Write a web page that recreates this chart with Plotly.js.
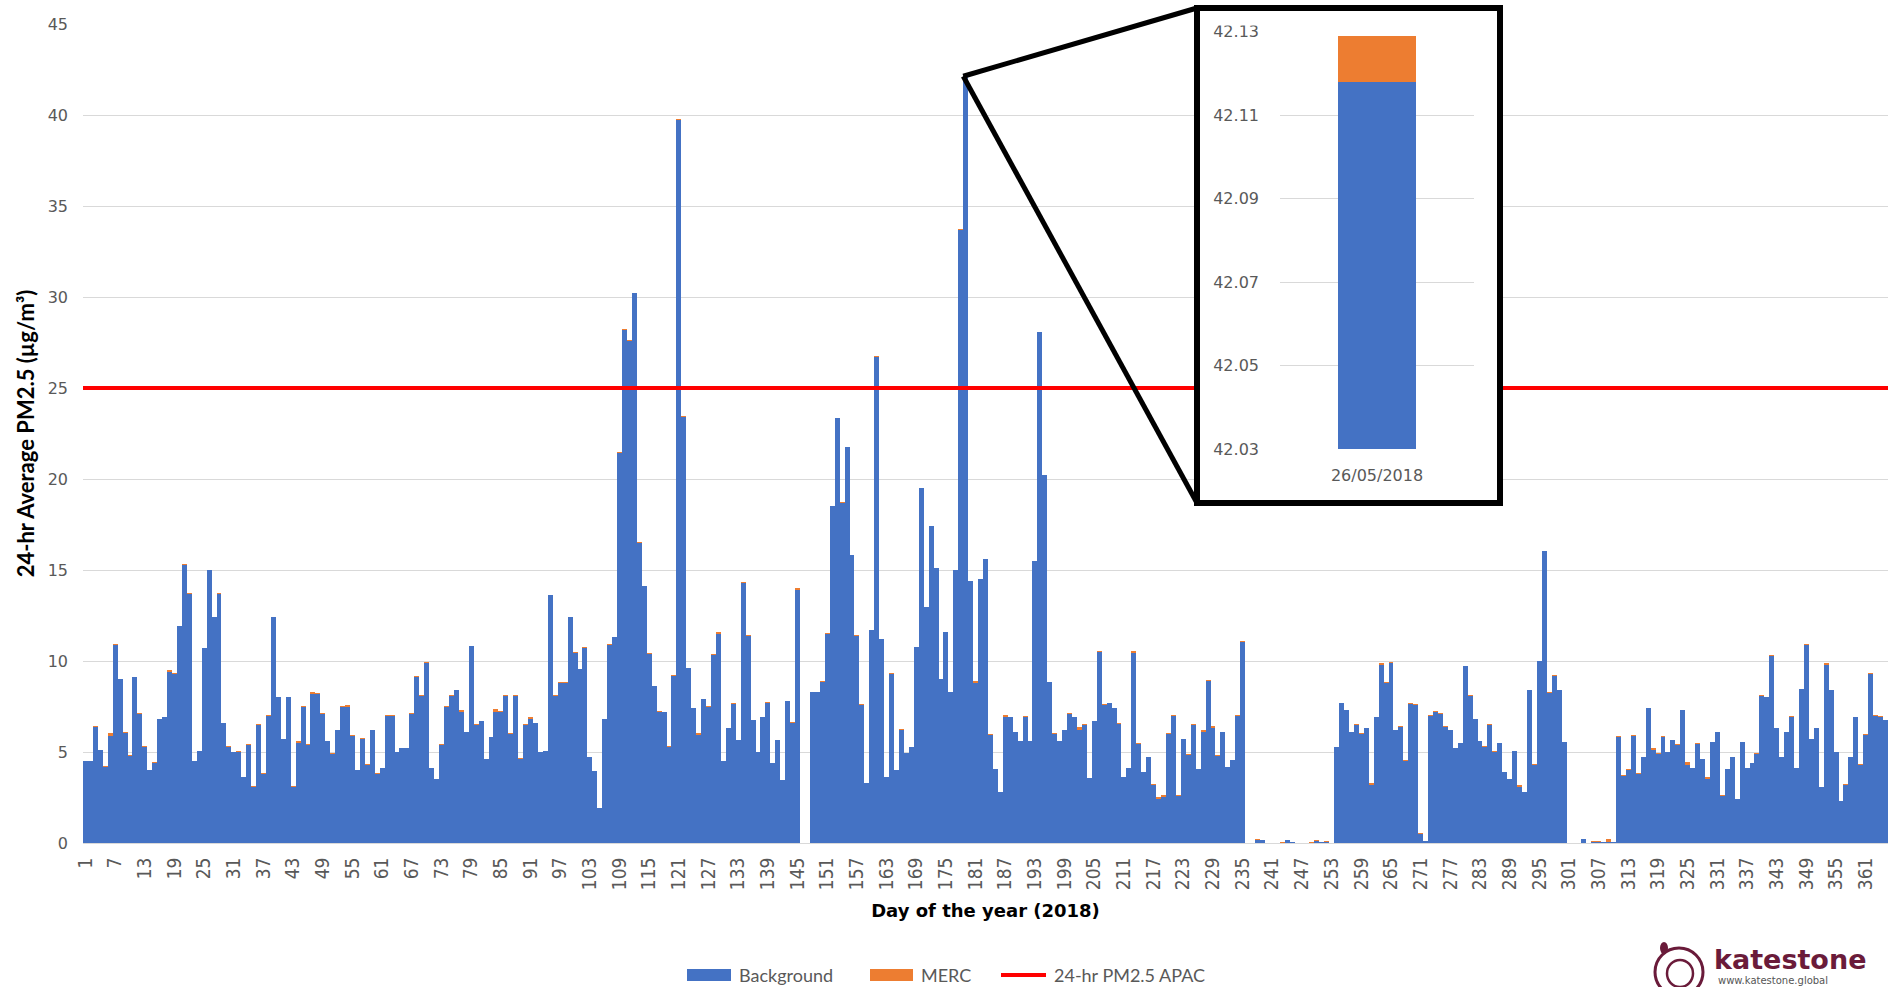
<!DOCTYPE html>
<html>
<head>
<meta charset="utf-8">
<script src="https://cdn.plot.ly/plotly-3.0.1.min.js"></script>
<style>html,body{margin:0;padding:0;background:#fff;}#chart{width:1902px;height:987px;}</style>
</head>
<body>
<div id="chart"></div>
<script>
// ---------------- DATA ----------------
const days = Array.from({length: 365}, (_, i) => i + 1);

const background = [
  4.5, 4.5, 6.4, 5.1, 4.2, 5.9, 10.9, 9.0, 6.05, 4.8,
  9.1, 7.1, 5.3, 4.0, 4.4, 6.8, 6.9, 9.4, 9.3, 11.9,
  15.3, 13.7, 4.5, 5.05, 10.7, 15.0, 12.4, 13.7, 6.6, 5.3,
  5.0, 5.0, 3.6, 5.4, 3.1, 6.5, 3.8, 7.0, 12.4, 8.0,
  5.7, 8.0, 3.1, 5.5, 7.5, 5.4, 8.2, 8.2, 7.1, 5.6,
  4.9, 6.2, 7.5, 7.5, 5.9, 4.0, 5.7, 4.3, 6.2, 3.8,
  4.1, 7.0, 7.0, 5.0, 5.2, 5.2, 7.1, 9.1, 8.1, 9.9,
  4.1, 3.5, 5.4, 7.5, 8.1, 8.4, 7.2, 6.1, 10.8, 6.5,
  6.7, 4.6, 5.8, 7.2, 7.2, 8.1, 6.0, 8.1, 4.6, 6.5,
  6.8, 6.6, 5.0, 5.05, 13.6, 8.1, 8.8, 8.8, 12.4, 10.45,
  9.55, 10.7, 4.7, 3.95, 1.9, 6.8, 10.9, 11.3, 21.45, 28.2,
  27.6, 30.2, 16.5, 14.1, 10.4, 8.6, 7.2, 7.2, 5.3, 9.2,
  39.7, 23.4, 9.6, 7.4, 5.95, 7.9, 7.5, 10.35, 11.5, 4.5,
  6.3, 7.65, 5.65, 14.3, 11.4, 6.75, 5.0, 6.9, 7.7, 4.4,
  5.65, 3.45, 7.8, 6.6, 13.9, 0, 0, 8.3, 8.3, 8.85,
  11.5, 18.5, 23.35, 18.7, 21.75, 15.8, 11.4, 7.6, 3.3, 11.7,
  26.7, 11.2, 3.6, 9.3, 4.0, 6.2, 4.95, 5.25, 10.75, 19.5,
  12.95, 17.4, 15.1, 9.0, 11.6, 8.3, 15.0, 33.7, 42.118, 14.4,
  8.8, 14.5, 15.6, 5.95, 4.05, 2.8, 6.9, 6.9, 6.1, 5.6,
  6.95, 5.6, 15.5, 28.05, 20.2, 8.85, 6.0, 5.6, 6.2, 7.1,
  6.9, 6.2, 6.5, 3.55, 6.7, 10.5, 7.6, 7.7, 7.4, 6.55,
  3.6, 4.1, 10.45, 5.45, 3.9, 4.7, 3.2, 2.4, 2.55, 6.0,
  7.0, 2.6, 5.7, 4.85, 6.5, 4.05, 6.1, 8.9, 6.3, 4.8,
  6.1, 4.15, 4.55, 7.0, 11.05, 0, 0, 0.18, 0.15, 0,
  0, 0, 0.02, 0.15, 0.03, 0, 0, 0, 0.02, 0.12,
  0.03, 0.08, 0, 5.25, 7.7, 7.3, 6.1, 6.5, 6.0, 6.3,
  3.2, 6.9, 9.8, 8.8, 9.9, 6.2, 6.4, 4.5, 7.65, 7.6,
  0.5, 0.1, 7.0, 7.2, 7.1, 6.4, 6.2, 5.2, 5.5, 9.7,
  8.1, 6.8, 5.6, 5.3, 6.5, 5.0, 5.5, 3.9, 3.5, 5.05,
  3.1, 2.8, 8.4, 4.3, 10.0, 16.05, 8.25, 9.2, 8.4, 5.55,
  0, 0, 0, 0.2, 0, 0.08, 0.08, 0.04, 0.05, 0.06,
  5.85, 3.7, 4.0, 5.9, 3.8, 4.7, 7.4, 5.1, 4.9, 5.85,
  5.0, 5.65, 5.4, 7.3, 4.3, 4.1, 5.45, 4.6, 3.5, 5.55,
  6.1, 2.6, 4.05, 4.7, 2.4, 5.55, 4.1, 4.4, 4.9, 8.1,
  8.0, 10.3, 6.3, 4.7, 6.1, 6.95, 4.1, 8.45, 10.9, 5.7,
  6.3, 3.05, 9.8, 8.4, 5.0, 2.3, 3.2, 4.7, 6.9, 4.3,
  5.95, 9.3, 7.0, 6.95, 6.75
];

const merc = [
  0.02, 0.03, 0.05, 0.02, 0.02, 0.12, 0.03, 0.02, 0.03, 0.05,
  0.04, 0.02, 0.02, 0.02, 0.03, 0.02, 0.05, 0.1, 0.03, 0.02,
  0.05, 0.02, 0.02, 0.03, 0.02, 0.02, 0.03, 0.02, 0.02, 0.03,
  0.02, 0.08, 0.02, 0.02, 0.02, 0.03, 0.02, 0.05, 0.02, 0.02,
  0.02, 0.03, 0.02, 0.12, 0.02, 0.02, 0.08, 0.03, 0.02, 0.02,
  0.02, 0.03, 0.02, 0.08, 0.02, 0.02, 0.05, 0.02, 0.02, 0.02,
  0.02, 0.06, 0.02, 0.02, 0.03, 0.02, 0.02, 0.05, 0.02, 0.02,
  0.02, 0.02, 0.02, 0.03, 0.02, 0.02, 0.1, 0.02, 0.02, 0.03,
  0.02, 0.02, 0.02, 0.15, 0.05, 0.02, 0.03, 0.02, 0.05, 0.02,
  0.12, 0.02, 0.02, 0.02, 0.03, 0.02, 0.02, 0.03, 0.02, 0.02,
  0.02, 0.05, 0.02, 0.02, 0.02, 0.02, 0.02, 0.02, 0.02, 0.03,
  0.02, 0.02, 0.02, 0.02, 0.02, 0.03, 0.05, 0.02, 0.02, 0.03,
  0.1, 0.05, 0.02, 0.02, 0.1, 0.02, 0.03, 0.02, 0.1, 0.02,
  0.02, 0.03, 0.02, 0.02, 0.02, 0.02, 0.02, 0.02, 0.03, 0.02,
  0.02, 0.02, 0.02, 0.03, 0.1, 0, 0, 0.02, 0.02, 0.03,
  0.02, 0.02, 0.02, 0.02, 0.02, 0.02, 0.02, 0.02, 0.02, 0.03,
  0.05, 0.02, 0.02, 0.03, 0.02, 0.05, 0.02, 0.02, 0.02, 0.02,
  0.02, 0.02, 0.02, 0.02, 0.02, 0.02, 0.02, 0.02, 0.011, 0.02,
  0.1, 0.02, 0.02, 0.02, 0.02, 0.02, 0.15, 0.02, 0.02, 0.02,
  0.02, 0.02, 0.02, 0.02, 0.02, 0.02, 0.02, 0.02, 0.03, 0.02,
  0.03, 0.15, 0.02, 0.02, 0.02, 0.05, 0.02, 0.02, 0.02, 0.02,
  0.02, 0.02, 0.1, 0.02, 0.02, 0.02, 0.03, 0.15, 0.1, 0.02,
  0.03, 0.05, 0.02, 0.02, 0.02, 0.02, 0.1, 0.08, 0.15, 0.02,
  0.02, 0.02, 0.02, 0.02, 0.03, 0, 0, 0.02, 0.02, 0,
  0, 0, 0.05, 0.03, 0.02, 0, 0, 0, 0.05, 0.05,
  0.04, 0.02, 0, 0.02, 0.02, 0.02, 0.02, 0.02, 0.02, 0.02,
  0.1, 0.02, 0.1, 0.02, 0.05, 0.02, 0.02, 0.05, 0.02, 0.02,
  0.05, 0.02, 0.02, 0.03, 0.02, 0.02, 0.02, 0.02, 0.02, 0.02,
  0.02, 0.02, 0.03, 0.02, 0.02, 0.05, 0.02, 0.02, 0.02, 0.02,
  0.1, 0.02, 0.02, 0.02, 0.02, 0.02, 0.02, 0.02, 0.02, 0.02,
  0, 0, 0, 0.02, 0, 0.05, 0.05, 0.02, 0.15, 0.02,
  0.02, 0.02, 0.05, 0.02, 0.02, 0.05, 0.02, 0.1, 0.02, 0.02,
  0.02, 0.03, 0.02, 0.02, 0.15, 0.02, 0.02, 0.02, 0.1, 0.02,
  0.02, 0.02, 0.02, 0.02, 0.02, 0.02, 0.02, 0.02, 0.02, 0.03,
  0.02, 0.02, 0.02, 0.02, 0.02, 0.02, 0.02, 0.02, 0.05, 0.02,
  0.02, 0.02, 0.08, 0.02, 0.02, 0.02, 0.02, 0.02, 0.02, 0.02,
  0.02, 0.02, 0.02, 0.02, 0.02
];

const apacLimit = 25;
const xTickVals = [1, 7, 13, 19, 25, 31, 37, 43, 49, 55, 61, 67, 73, 79, 85, 91, 97, 103, 109, 115,
  121, 127, 133, 139, 145, 151, 157, 163, 169, 175, 181, 187, 193, 199, 205, 211, 217, 223, 229, 235,
  241, 247, 253, 259, 265, 271, 277, 283, 289, 295, 301, 307, 313, 319, 325, 331, 337, 343, 349, 355, 361];
const yTickVals = [0, 5, 10, 15, 20, 25, 30, 35, 40, 45];

// inset (zoom on the peak day)
const insetCategory = ['26/05/2018'];
const insetBackground = [42.118];
const insetMerc = [0.011];
const insetTickVals = [42.03, 42.05, 42.07, 42.09, 42.11, 42.13];
const peakDay = 179;

// ---------------- STYLE / LAYOUT ----------------
const BLUE = '#4472C4', ORANGE = '#ED7D31', RED = '#FF0000', GREY = '#595959', GRID = '#d9d9d9';
const MAROON = '#6A1B3A';
const L = 83, R = 14, T = 24, B = 144;
const W = 1902 - L - R, H = 987 - T - B;
const px2x = p => (p - L) / W;
const py2y = p => (T + H - p) / H;

const tickFontCond = {family: 'Liberation Sans Narrow, "Arial Narrow", "DejaVu Sans Condensed", Lato, sans-serif', size: 19, color: GREY};

const traces = [
  {type: 'bar', x: days, y: background, name: 'Background', marker: {color: BLUE, line: {width: 0}},
   xaxis: 'x', yaxis: 'y', showlegend: false, hoverinfo: 'skip'},
  {type: 'bar', x: days, y: merc, name: 'MERC', marker: {color: ORANGE, line: {width: 0}},
   xaxis: 'x', yaxis: 'y', showlegend: false, hoverinfo: 'skip'},
  {type: 'scatter', mode: 'lines', x: [days[0] - 0.5, days[days.length - 1] + 0.5], y: [apacLimit, apacLimit],
   name: '24-hr PM2.5 APAC', line: {color: RED, width: 4}, xaxis: 'x', yaxis: 'y', showlegend: false, hoverinfo: 'skip'},
  // white backing of the inset box
  {type: 'scatter', mode: 'lines', x: [0, 1, 1, 0, 0], y: [0, 0, 1, 1, 0], fill: 'toself', fillcolor: '#ffffff',
   line: {width: 0, color: 'rgba(0,0,0,0)'}, xaxis: 'x2', yaxis: 'y2', showlegend: false, hoverinfo: 'skip'},
  // inset bars
  {type: 'bar', x: insetCategory, y: insetBackground, width: 0.4, marker: {color: BLUE, line: {width: 0}},
   xaxis: 'x3', yaxis: 'y3', showlegend: false, hoverinfo: 'skip'},
  {type: 'bar', x: insetCategory, y: insetMerc, width: 0.4, marker: {color: ORANGE, line: {width: 0}},
   xaxis: 'x3', yaxis: 'y3', showlegend: false, hoverinfo: 'skip'}
];

const peakTotal = background[peakDay - 1] + merc[peakDay - 1];
const vx = (peakDay - 0.5 - 0.5) / 365, vy = peakTotal / 45;
const boxX0 = px2x(1197), boxX1 = px2x(1500), boxY0 = py2y(503), boxY1 = py2y(8);

const shapes = [
  // cover the main top gridline inside the box
  {type: 'rect', xref: 'paper', yref: 'paper', x0: px2x(1200), x1: px2x(1497), y0: py2y(25.6), y1: py2y(19),
   fillcolor: '#ffffff', line: {width: 0}, layer: 'above'},
  // callout lines
  {type: 'line', xref: 'paper', yref: 'paper', x0: vx, y0: vy, x1: boxX0, y1: boxY1, line: {color: '#000', width: 5}, layer: 'above'},
  {type: 'line', xref: 'paper', yref: 'paper', x0: vx, y0: vy, x1: boxX0, y1: boxY0, line: {color: '#000', width: 5}, layer: 'above'},
  // box border
  {type: 'rect', xref: 'paper', yref: 'paper', x0: boxX0, x1: boxX1, y0: boxY0, y1: boxY1,
   fillcolor: 'rgba(0,0,0,0)', line: {color: '#000', width: 6}, layer: 'above'},
  // custom legend swatches
  {type: 'rect', xref: 'paper', yref: 'paper', x0: px2x(687), x1: px2x(731), y0: py2y(981), y1: py2y(969),
   fillcolor: BLUE, line: {width: 0}},
  {type: 'rect', xref: 'paper', yref: 'paper', x0: px2x(870), x1: px2x(913), y0: py2y(981), y1: py2y(969),
   fillcolor: ORANGE, line: {width: 0}},
  {type: 'line', xref: 'paper', yref: 'paper', x0: px2x(1001), x1: px2x(1046), y0: py2y(975), y1: py2y(975),
   line: {color: RED, width: 4}},
  // logo swirl
  {type: 'circle', xref: 'paper', yref: 'paper', x0: px2x(1655), x1: px2x(1703), y0: py2y(996), y1: py2y(948),
   line: {color: MAROON, width: 3}, fillcolor: 'rgba(0,0,0,0)'},
  {type: 'circle', xref: 'paper', yref: 'paper', x0: px2x(1667), x1: px2x(1693), y0: py2y(987), y1: py2y(960),
   line: {color: MAROON, width: 2.5}, fillcolor: 'rgba(0,0,0,0)'},
  {type: 'circle', xref: 'paper', yref: 'paper', x0: px2x(1660), x1: px2x(1668), y0: py2y(954), y1: py2y(942),
   line: {width: 0}, fillcolor: MAROON}
];

const legendFont = {family: 'Lato, "Liberation Sans", sans-serif', size: 18, color: GREY};
const annotations = [
  {xref: 'paper', yref: 'paper', x: px2x(737), y: py2y(975), xanchor: 'left', yanchor: 'middle', text: 'Background', showarrow: false, font: legendFont},
  {xref: 'paper', yref: 'paper', x: px2x(919), y: py2y(975), xanchor: 'left', yanchor: 'middle', text: 'MERC', showarrow: false, font: legendFont},
  {xref: 'paper', yref: 'paper', x: px2x(1052), y: py2y(975), xanchor: 'left', yanchor: 'middle', text: '24-hr PM2.5 APAC', showarrow: false, font: legendFont},
  {xref: 'paper', yref: 'paper', x: px2x(1712), y: py2y(959), xanchor: 'left', yanchor: 'middle', text: '<b>katestone</b>', showarrow: false,
   font: {family: '"DejaVu Sans", Verdana, sans-serif', size: 27, color: MAROON}},
  {xref: 'paper', yref: 'paper', x: px2x(1716), y: py2y(988), xanchor: 'left', yanchor: 'bottom', text: 'www.katestone.global', showarrow: false,
   font: {family: '"DejaVu Sans", sans-serif', size: 10, color: '#555'}}
];

const layout = {
  width: 1902, height: 987,
  margin: {l: L, r: R, t: T, b: B, pad: 0},
  paper_bgcolor: '#ffffff', plot_bgcolor: 'rgba(0,0,0,0)',
  barmode: 'stack', bargap: 0,
  showlegend: false,
  font: {family: 'Lato, sans-serif', color: GREY},
  xaxis: {
    domain: [0, 1], anchor: 'y', range: [0.5, 365.5],
    tickmode: 'array', tickvals: xTickVals, ticktext: xTickVals.map(String),
    tickangle: -90, tickfont: tickFontCond, ticks: '', ticklabelstandoff: 6,
    showgrid: false, zeroline: false, showline: true, linecolor: GRID, linewidth: 1,
    title: {text: '<b>Day of the year (2018)</b>', font: {family: '"DejaVu Sans", Verdana, sans-serif', size: 18, color: '#000'}, standoff: 15}
  },
  yaxis: {
    domain: [0, 1], anchor: 'x', range: [0, 45],
    tickmode: 'array', tickvals: yTickVals, tickfont: {family: '"DejaVu Sans", Verdana, sans-serif', size: 16, color: GREY},
    ticks: '', ticklabelstandoff: 14,
    showgrid: true, gridcolor: GRID, gridwidth: 1, zeroline: false, showline: false,
    title: {text: '<b>24-hr Average PM2.5 (µg/m³)</b>', font: {family: 'Lato, "Liberation Sans", sans-serif', size: 22, color: '#000'}, standoff: 6}
  },
  xaxis2: {domain: [boxX0, boxX1], anchor: 'y2', range: [0, 1], visible: false, fixedrange: true},
  yaxis2: {domain: [boxY0, 1], anchor: 'x2', range: [0, 1], visible: false, fixedrange: true},
  xaxis3: {
    domain: [px2x(1280), px2x(1474)], anchor: 'y3', type: 'category', range: [-0.5, 0.5],
    showgrid: false, zeroline: false, showline: false, ticks: '', ticklabelstandoff: 15,
    tickfont: {family: '"DejaVu Sans", Verdana, sans-serif', size: 16, color: GREY}
  },
  yaxis3: {
    domain: [py2y(449), py2y(31.6)], anchor: 'x3', range: [42.03, 42.13],
    tickmode: 'array', tickvals: insetTickVals, tickformat: '.2f',
    showgrid: true, gridcolor: GRID, zeroline: false, showline: false, ticks: '', ticklabelstandoff: 20,
    tickfont: {family: '"DejaVu Sans", Verdana, sans-serif', size: 16, color: GREY}
  },
  shapes: shapes,
  annotations: annotations
};

Plotly.newPlot('chart', traces, layout, {displayModeBar: false, staticPlot: true});
</script>
</body>
</html>
